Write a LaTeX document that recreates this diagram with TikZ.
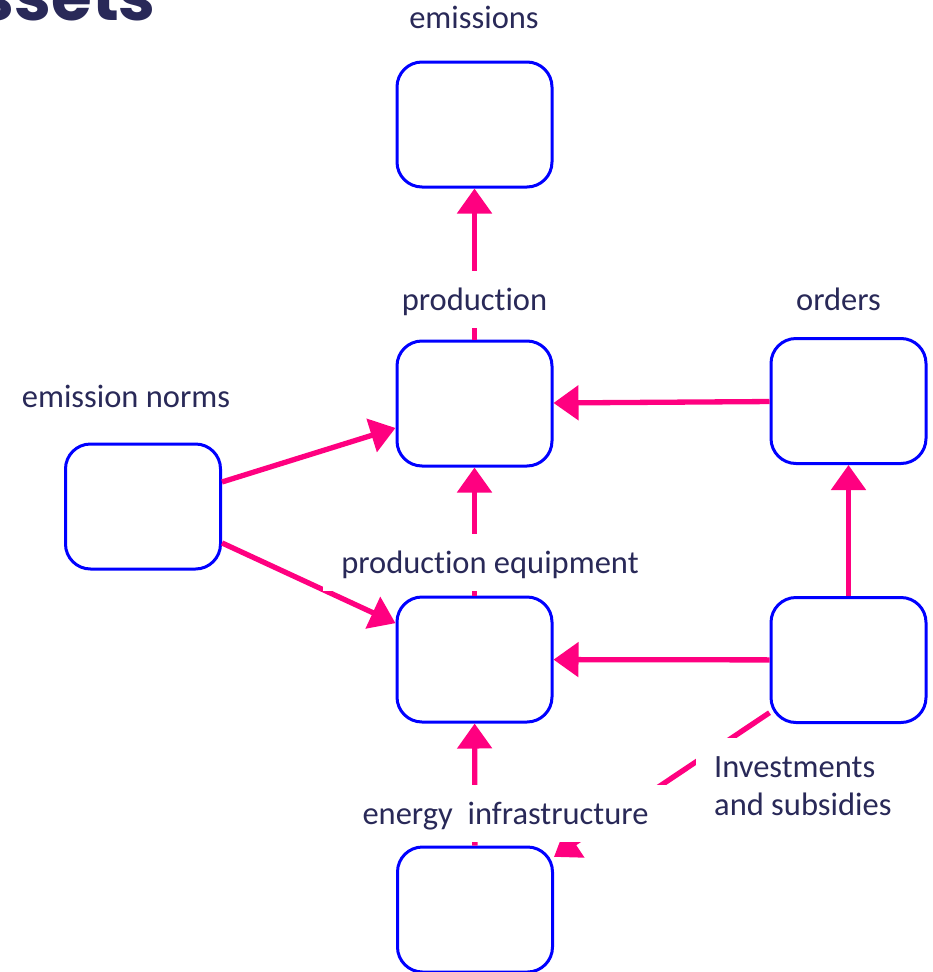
\documentclass[tikz,border=0pt]{standalone}
\usepackage{fontspec}
\setmainfont{Carlito}[Ligatures=NoCommon]
\newfontfamily\titlefont{Poppins}
\usetikzlibrary{arrows.meta}
\definecolor{pinkarr}{RGB}{255,0,128}
\definecolor{navy}{RGB}{41,41,88}
\definecolor{boxblue}{RGB}{0,0,255}
\begin{document}
\begin{tikzpicture}[x=1pt,y=-1pt,
  box/.style={draw=boxblue, line width=3pt, fill=white, rounded corners=25pt,
    minimum width=155pt, minimum height=125pt, inner sep=0pt},
  arr/.style={draw=pinkarr, line width=5.3pt, -{Triangle[length=25pt,width=34pt]}},
  lbl/.style={fill=white, text=navy, font=\fontsize{32.5}{38}\selectfont,
    inner xsep=18pt, inner ysep=0pt, text height=39pt, text depth=18pt, anchor=base},
]
\clip (0,0) rectangle (933,972);
\fill[white] (0,0) rectangle (933,972);

% title (cut off)
\node[anchor=base east, text=navy, font=\titlefont\bfseries\fontsize{66}{70}\selectfont,
  inner sep=0pt] (title) at (156,20) {ssets};

% boxes
\node[box] (emis)   at (474.5,124.5) {};
\node[box] (prod)   at (474.5,403.5) {};
\node[box] (orders) at (848.5,401) {};
\node[box] (norms)  at (143,506.5) {};
\node[box] (peq)    at (474.5,659.5) {};
\node[box] (inv)    at (848.5,660) {};
\node[box] (energy) at (475,909.5) {};

% connectors
\draw[arr] (prod) -- (emis);
\draw[arr] (orders) -- (prod);
\draw[arr] (norms) -- (prod);
\draw[arr] (norms) -- (peq);
\draw[arr] (peq) -- (prod);
\draw[arr] (inv) -- (peq);
\draw[arr] (inv) -- (orders);
\draw[arr] (energy) -- (peq);
\draw[arr] (inv) -- (energy);

% labels
\node[lbl] (lemis)   at (474,28)    {emissions};
\node[lbl] (lprod)   at (474.5,310) {production};
\node[lbl] (lorders) at (838.5,310) {orders};
\node[lbl] (lnorms)  at (126,407)   {emission norms};
\node[lbl] (lpeq)    at (490,573)   {production equipment};
\node[lbl] (lenergy) at (505.5,824) {energy~~infrastructure};
\node[fill=white, text=navy, font=\fontsize{32.5}{38}\selectfont, align=left,
  inner xsep=18pt, inner ysep=18pt, anchor=base west] (linv) at (696,815)
  {Investments\\and subsidies};
\end{tikzpicture}
\end{document}
